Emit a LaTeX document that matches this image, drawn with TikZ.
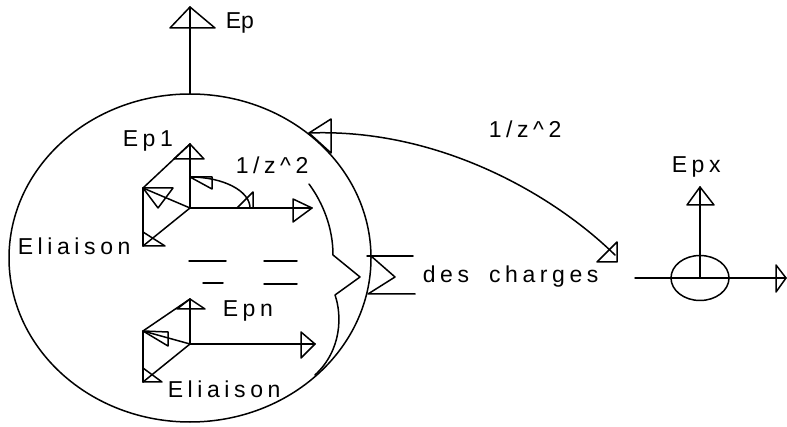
\documentclass[tikz,border=0pt]{standalone}
\usepackage{fontspec}
\setmainfont{Liberation Sans}
\newfontfamily\spacedfont[LetterSpace=20]{Liberation Sans}
\begin{document}
\begin{tikzpicture}[x=1pt,y=-1pt,line width=1.5pt,line join=round,line cap=round,
  lbl/.style={anchor=base west,inner sep=0pt,font=\fontsize{23}{27}\selectfont\spacedfont},
  plainlbl/.style={anchor=base west,inner sep=0pt,font=\fontsize{23}{27}\selectfont},
  tip/.style={line width=1.5pt}]
\useasboundingbox (0,0) rectangle (787,427);

% big circle
\draw (190,258) ellipse [x radius=181pt, y radius=164pt];

% Ep
\coordinate (ep0) at (190,94);
\coordinate (ep1) at (190,7);
\draw (ep0) -- (ep1);
\draw[tip] (190,7) -- (170,28) -- (215,28) -- cycle;
\node[plainlbl] (Ep) at (225,29) {Ep};

% upper frame
\coordinate (O1) at (190,208);
\coordinate (T1) at (190,144);
\coordinate (L1) at (143,188);
\coordinate (B1) at (143,246);
\coordinate (R1) at (312,208);
\draw (O1) -- (T1);
\draw (O1) -- (R1);
\draw (O1) -- (L1);
\draw (L1) -- (T1);
\draw (L1) -- (B1);
\draw (O1) -- (B1);
\draw[tip] (190,144) -- (174,159) -- (204,159) -- cycle;
\draw[tip] (312,208) -- (293,199) -- (293,222) -- cycle;
\draw[tip] (143,188) -- (173,188) -- (158,208) -- cycle;
\draw[tip] (143,232) -- (165,246) -- (143,246) -- cycle;
\draw (190,177) arc[start angle=90, end angle=0, x radius=60pt, y radius=31pt];
\draw[tip] (190,177) -- (212,177) -- (212,189) -- cycle;
\draw[tip] (237,208) -- (253,208) -- (253,192) -- cycle;
\node[lbl] (Ep1) at (122,147) {Ep1};
\node[lbl] (z1) at (235,174) {1/z\textasciicircum 2};
\node[lbl] (El1) at (17,255) {Eliaison};

% dashes
\draw (189,261) -- (226,261);
\draw (264,261) -- (297,261);
\draw (203,283) -- (223,283);
\draw (264,284) -- (297,284);

% lower frame
\coordinate (O2) at (190,344);
\coordinate (T2) at (190,299);
\coordinate (L2) at (143,331);
\coordinate (B2) at (143,382);
\coordinate (R2) at (315,344);
\draw (O2) -- (T2);
\draw (O2) -- (R2);
\draw (O2) -- (L2);
\draw (L2) -- (T2);
\draw (L2) -- (B2);
\draw (O2) -- (B2);
\draw[tip] (190,299) -- (177,309) -- (205,309) -- cycle;
\draw[tip] (315,344) -- (301,332) -- (301,358) -- cycle;
\draw[tip] (143,331) -- (168,332) -- (168,346) -- cycle;
\draw[tip] (143,368) -- (162,382) -- (143,382) -- cycle;
\node[lbl] (Epn) at (222,317) {Epn};
\node[lbl] (El2) at (167,397) {Eliaison};

% brace
\draw (309,184) .. controls (323,203) and (333,228) .. (333,255)
  -- (360,277) -- (335,295) .. controls (342,315) and (342,350) .. (315,375);

% sigma
\draw (367,256) -- (413,256);
\draw (371,256) -- (395,277) -- (368,294) -- (415,294);
\node[lbl] (dc) at (422,283) {des\hspace{20pt}charges};

% big arc
\coordinate (a0) at (309,133);
\coordinate (a1) at (615,255);
\draw (a0) .. controls (440,128) and (555,196) .. (a1);
\draw[tip] (309,133) -- (331,119) -- (331,153) -- cycle;
\draw[tip] (597,262) -- (617,262) -- (617,242) -- cycle;
\node[lbl] (z2) at (488,138) {1/z\textasciicircum 2};

% Epx
\coordinate (X) at (700,278);
\draw (X) ellipse [x radius=29pt, y radius=22.5pt];
\draw (635,278) -- (786,278);
\draw (X) -- (700,187);
\draw[tip] (700,187) -- (687,205) -- (714,205) -- cycle;
\draw[tip] (786,278) -- (776,265) -- (776,292) -- cycle;
\node[lbl] (Epx) at (671,173) {Epx};
\end{tikzpicture}
\end{document}
